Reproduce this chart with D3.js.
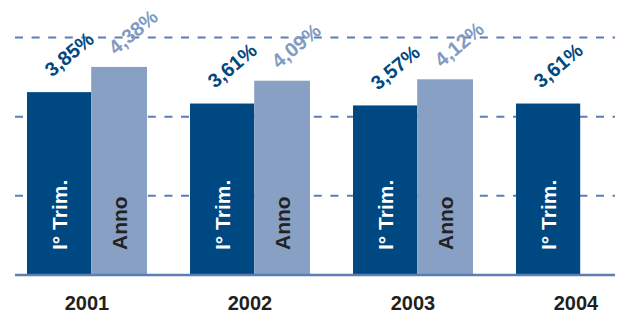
<!DOCTYPE html>
<html>
<head>
<meta charset="utf-8">
<script src="https://cdn.jsdelivr.net/npm/d3@7"></script>
<style>
  body { margin: 0; background: #fff; }
  text { font-family: "Liberation Sans", Arial, sans-serif; font-weight: bold; }
</style>
</head>
<body>
<script>
// chart data
var years = ["2001", "2002", "2003", "2004"];
var trimValues = [3.85, 3.61, 3.57, 3.61];
var annoValues = [4.38, 4.09, 4.12, null];
var gridValues = [5 / 3, 10 / 3, 5];
var trimName = "I° Trim.";
var annoName = "Anno";

var width = 623;
var height = 314;
var dark = "#004881";
var light = "#87a0c4";
var lineColor = "#5b7eb3";

var svg = d3.select("body").append("svg")
  .attr("width", width)
  .attr("height", height);

// band scale for the year groups, bars share a group of 120px
var x = d3.scaleBand()
  .domain(years)
  .range([5.5, 657.5])
  .paddingInner(0.264)
  .paddingOuter(0.132);

var y = d3.scaleLinear()
  .domain([0, 5])
  .range([275, 37.5]);

var darkW = x.bandwidth() * 0.535;

var fmt = function(v) { return v.toFixed(2).replace(".", ",") + "%"; };

// dashed gridlines
svg.selectAll("line.grid").data(gridValues).enter().append("line")
  .attr("class", "grid")
  .attr("x1", 15).attr("x2", 615)
  .attr("y1", function(d) { return y(d); })
  .attr("y2", function(d) { return y(d); })
  .attr("stroke", lineColor)
  .attr("stroke-width", 2)
  .attr("stroke-dasharray", "8,8.6");

var trim = years.map(function(yr, i) { return { year: yr, v: trimValues[i] }; });
var anno = years.map(function(yr, i) { return { year: yr, v: annoValues[i] }; })
  .filter(function(d) { return d.v != null; });

// dark bars (I° Trim.)
svg.selectAll("rect.trim").data(trim).enter().append("rect")
  .attr("class", "trim")
  .attr("x", function(d) { return x(d.year); })
  .attr("y", function(d) { return y(d.v); })
  .attr("width", darkW)
  .attr("height", function(d) { return y(0) - y(d.v); })
  .attr("fill", dark);

// light bars (Anno)
svg.selectAll("rect.anno").data(anno).enter().append("rect")
  .attr("class", "anno")
  .attr("x", function(d) { return x(d.year) + darkW; })
  .attr("y", function(d) { return y(d.v); })
  .attr("width", x.bandwidth() - darkW)
  .attr("height", function(d) { return y(0) - y(d.v); })
  .attr("fill", light);

// baseline
svg.append("line")
  .attr("x1", 15).attr("x2", 615)
  .attr("y1", y(0)).attr("y2", y(0))
  .attr("stroke", lineColor)
  .attr("stroke-width", 2.5);

// names inside bars
svg.selectAll("text.tname").data(trim).enter().append("text")
  .attr("class", "tname")
  .attr("transform", function(d) {
    return "translate(" + (x(d.year) + darkW / 2 + 7.5) + "," + (y(0) - 25) + ") rotate(-90)";
  })
  .attr("font-size", 21)
  .attr("fill", "#fff")
  .text(trimName);

svg.selectAll("text.aname").data(anno).enter().append("text")
  .attr("class", "aname")
  .attr("transform", function(d) {
    var cx = x(d.year) + darkW + (x.bandwidth() - darkW) / 2;
    return "translate(" + (cx + 7.5) + "," + (y(0) - 25) + ") rotate(-90)";
  })
  .attr("font-size", 21)
  .attr("fill", "#222")
  .text(annoName);

// value labels, slanted above each bar
svg.selectAll("text.tval").data(trim).enter().append("text")
  .attr("class", "tval")
  .attr("transform", function(d) {
    return "translate(" + (x(d.year) + darkW / 2 + 10) + "," + (y(d.v) - 38) + ") rotate(-40)";
  })
  .attr("text-anchor", "middle")
  .attr("dy", "0.35em")
  .attr("font-size", 20)
  .attr("fill", dark)
  .text(function(d) { return fmt(d.v); });

svg.selectAll("text.aval").data(anno).enter().append("text")
  .attr("class", "aval")
  .attr("transform", function(d) {
    var cx = x(d.year) + darkW + (x.bandwidth() - darkW) / 2;
    return "translate(" + (cx + 14) + "," + (y(d.v) - 35) + ") rotate(-40)";
  })
  .attr("text-anchor", "middle")
  .attr("dy", "0.35em")
  .attr("font-size", 20)
  .attr("fill", "#7f9bc4")
  .text(function(d) { return fmt(d.v); });

// year labels
svg.selectAll("text.year").data(years).enter().append("text")
  .attr("class", "year")
  .attr("x", function(d) { return x(d) + x.bandwidth() / 2; })
  .attr("y", 310)
  .attr("text-anchor", "middle")
  .attr("font-size", 20)
  .attr("fill", "#231f20")
  .text(function(d) { return d; });
</script>
</body>
</html>
